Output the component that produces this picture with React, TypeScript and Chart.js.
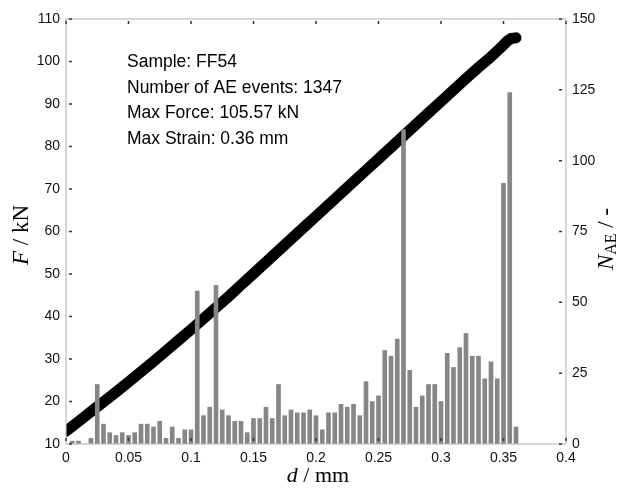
import React, { useEffect, useRef } from "react";
import { Chart, registerables } from "chart.js";

Chart.register(...registerables);

// AE event histogram: bin position (mm) and number of events per bin
const aePositions = [
  0.005, 0.01, 0.015, 0.02, 0.025, 0.03, 0.035, 0.04, 0.045, 0.05,
  0.055, 0.06, 0.065, 0.07, 0.075, 0.08, 0.085, 0.09, 0.095, 0.1,
  0.105, 0.11, 0.115, 0.12, 0.125, 0.13, 0.135, 0.14, 0.145, 0.15,
  0.155, 0.16, 0.165, 0.17, 0.175, 0.18, 0.185, 0.19, 0.195, 0.2,
  0.205, 0.21, 0.215, 0.22, 0.225, 0.23, 0.235, 0.24, 0.245, 0.25,
  0.255, 0.26, 0.265, 0.27, 0.275, 0.28, 0.285, 0.29, 0.295, 0.3,
  0.305, 0.31, 0.315, 0.32, 0.325, 0.33, 0.335, 0.34, 0.345, 0.35,
  0.355, 0.36,
];
const aeCounts = [
  1, 1, 0, 2, 21, 7, 4, 3, 4, 3,
  4, 7, 7, 6, 8, 2, 6, 2, 5, 5,
  54, 10, 13, 56, 12, 10, 8, 8, 4, 9,
  9, 13, 9, 21, 10, 12, 11, 11, 12, 10,
  5, 11, 11, 14, 13, 14, 10, 22, 15, 17,
  33, 31, 37, 111, 26, 13, 17, 21, 21, 15,
  32, 27, 34, 39, 31, 31, 23, 29, 23, 92,
  124, 6,
];

// Force-displacement curve
const forceDisp = [
  0, 0.01, 0.02, 0.03, 0.04, 0.05, 0.06, 0.07, 0.08, 0.09,
  0.1, 0.11, 0.12, 0.13, 0.14, 0.15, 0.16, 0.17, 0.18, 0.19,
  0.2, 0.21, 0.22, 0.23, 0.24, 0.25, 0.26, 0.27, 0.28, 0.29,
  0.3, 0.31, 0.32, 0.33, 0.34, 0.345, 0.35, 0.353, 0.356, 0.36,
];
const forceValues = [
  13.0, 15.3, 17.6, 19.9, 22.2, 24.6, 27.0, 29.4, 31.9, 34.4,
  36.9, 39.5, 42.1, 44.7, 47.4, 50.1, 52.8, 55.5, 58.2, 60.9,
  63.6, 66.3, 69.0, 71.7, 74.4, 77.1, 79.8, 82.5, 85.2, 87.9,
  90.6, 93.3, 96.0, 98.6, 101.1, 102.5, 103.9, 104.8, 105.4, 105.57,
];

const infoLines = [
  "Sample: FF54",
  "Number of AE events: 1347",
  "Max Force: 105.57 kN",
  "Max Strain: 0.36 mm",
];

const xMin = 0;
const xMax = 0.4;
const xStep = 0.05;
const fMin = 10;
const fMax = 110;
const fStep = 10;
const nMin = 0;
const nMax = 150;
const nStep = 25;

type Part = { t: string; font: string; dy?: number };

function drawParts(ctx: CanvasRenderingContext2D, parts: Part[], cx: number, cy: number, rot: number) {
  ctx.save();
  ctx.translate(cx, cy);
  ctx.rotate(rot);
  let total = 0;
  const widths = parts.map((p) => {
    ctx.font = p.font;
    const w = ctx.measureText(p.t).width;
    total += w;
    return w;
  });
  let x = -total / 2;
  ctx.textBaseline = "middle";
  ctx.textAlign = "left";
  ctx.fillStyle = "#000";
  parts.forEach((p, i) => {
    ctx.font = p.font;
    ctx.fillText(p.t, x, p.dy || 0);
    x += widths[i];
  });
  ctx.restore();
}

const serif = '"Liberation Serif", "Times New Roman", serif';
const sans = '"Liberation Sans", Arial, sans-serif';

const decorPlugin = {
  id: "decor",
  afterDatasetsDraw(chart: any) {
    const ctx: CanvasRenderingContext2D = chart.ctx;
    const a = chart.chartArea;
    const xs = chart.scales.x;
    const ys = chart.scales.y;
    const y1 = chart.scales.y1;
    ctx.save();
    // box
    ctx.strokeStyle = "#bdbdbd";
    ctx.lineWidth = 1.2;
    ctx.strokeRect(a.left, a.top, a.right - a.left, a.bottom - a.top);
    // inner ticks
    ctx.strokeStyle = "#333";
    ctx.lineWidth = 1.5;
    ctx.beginPath();
    xs.ticks.forEach((t: any) => {
      const px = xs.getPixelForValue(t.value);
      ctx.moveTo(px, a.bottom - 3);
      ctx.lineTo(px, a.bottom - 6);
      ctx.moveTo(px, a.top + 2);
      ctx.lineTo(px, a.top + 5);
    });
    ys.ticks.forEach((t: any) => {
      const py = ys.getPixelForValue(t.value);
      ctx.moveTo(a.left + 3, py);
      ctx.lineTo(a.left + 6, py);
    });
    y1.ticks.forEach((t: any) => {
      const py = y1.getPixelForValue(t.value);
      ctx.moveTo(a.right - 4, py);
      ctx.lineTo(a.right - 7, py);
    });
    ctx.stroke();
    // info text
    ctx.fillStyle = "#000";
    ctx.font = "17.5px " + sans;
    ctx.textAlign = "left";
    ctx.textBaseline = "middle";
    infoLines.forEach((line, i) => {
      ctx.fillText(line, 127, 62 + i * 25.7);
    });
    ctx.restore();
    // axis titles
    drawParts(ctx, [
      { t: "F", font: "italic 23px " + serif },
      { t: " / kN", font: "23px " + serif },
    ], 22, 235, -Math.PI / 2);
    drawParts(ctx, [
      { t: "N", font: "italic 23px " + serif },
      { t: "AE", font: "16px " + serif, dy: 5 },
      { t: " / -", font: "23px " + serif },
    ], 607, 239, -Math.PI / 2);
    drawParts(ctx, [
      { t: "d", font: "italic 22px " + serif },
      { t: " / mm", font: "22px " + serif },
    ], 318, 476, 0);
  },
};

function fmt(v: number) {
  return String(Number(v.toFixed(3)));
}

export default function App() {
  const ref = useRef<HTMLCanvasElement | null>(null);
  useEffect(() => {
    if (!ref.current) return;
    const barData = aePositions.map((x, i) => ({ x, y: aeCounts[i] }));
    const lineData = forceDisp.map((x, i) => ({ x, y: forceValues[i] }));
    const tickFont = { family: '"Liberation Sans", Arial, sans-serif', size: 14 };
    const chart = new Chart(ref.current, {
      type: "bar",
      data: {
        datasets: [
          {
            type: "bar",
            data: barData as any,
            yAxisID: "y1",
            backgroundColor: "#868686",
            barThickness: 4,
            grouped: false,
            order: 0,
          } as any,
          {
            type: "line",
            data: lineData as any,
            yAxisID: "y",
            borderColor: "#000",
            borderWidth: 11,
            borderCapStyle: "round",
            borderJoinStyle: "round",
            pointRadius: 0,
            tension: 0,
            order: 1,
          } as any,
        ],
      },
      options: {
        animation: false,
        responsive: false,
        layout: { padding: { top: 19, left: 0, right: 0, bottom: 0 } },
        plugins: { legend: { display: false }, tooltip: { enabled: false } },
        scales: {
          x: {
            type: "linear",
            min: xMin,
            max: xMax,
            offset: false,
            grid: { display: false, drawTicks: false, offset: false },
            border: { display: false },
            ticks: { stepSize: xStep, padding: 6, color: "#111", font: tickFont, callback: (v: any) => fmt(Number(v)), maxRotation: 0 },
            afterFit: (s: any) => { s.height = 48; },
          },
          y: {
            type: "linear",
            position: "left",
            min: fMin,
            max: fMax,
            grid: { display: false, drawTicks: false },
            border: { display: false },
            ticks: { stepSize: fStep, padding: 6, color: "#111", font: tickFont },
            afterFit: (s: any) => { s.width = 66; },
          },
          y1: {
            type: "linear",
            position: "right",
            min: nMin,
            max: nMax,
            grid: { display: false, drawTicks: false },
            border: { display: false },
            ticks: { stepSize: nStep, padding: 6, color: "#111", font: tickFont },
            afterFit: (s: any) => { s.width = 59; },
          },
        },
      } as any,
      plugins: [decorPlugin],
    });
    return () => chart.destroy();
  }, []);
  return (
    <div style={{ position: "fixed", left: 0, top: 0, width: 625, height: 492, background: "#fff" }}>
      <canvas ref={ref} width={625} height={492} style={{ display: "block" }} />
    </div>
  );
}
